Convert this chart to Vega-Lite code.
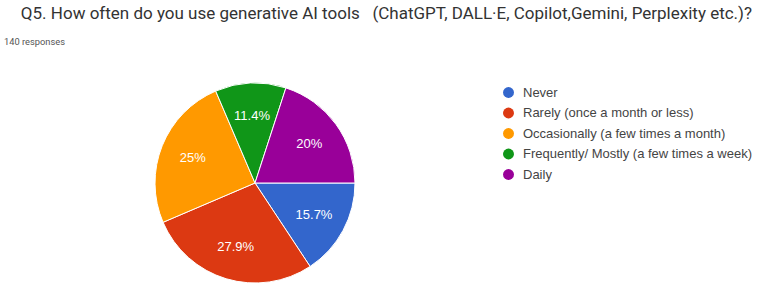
{
  "$schema": "https://vega.github.io/schema/vega-lite/v6.json",
  "width": 510,
  "height": 200,
  "padding": {"left": 0, "top": 4, "right": 0, "bottom": 0},
  "background": "white",
  "config": {"view": {"stroke": null}, "font": "Liberation Sans"},
  "title": {
    "text": "\u200b\u00a0\u00a0\u00a0\u00a0Q5. How often do you use generative AI tools \u00a0 (ChatGPT, DALL·E, Copilot,Gemini, Perplexity etc.)?",
    "subtitle": "140 responses",
    "anchor": "start",
    "frame": "bounds",
    "dx": 4,
    "font": "Roboto",
    "fontSize": 17,
    "fontWeight": "normal",
    "color": "#333333",
    "subtitleFont": "Roboto",
    "subtitleFontSize": 9.3,
    "subtitleColor": "#555555",
    "subtitlePadding": 15,
    "offset": 33
  },
  "data": {
    "values": [
      {"idx": 1, "answer": "Never", "count": 22, "label": "15.7%"},
      {"idx": 2, "answer": "Rarely (once a month or less)", "count": 39, "label": "27.9%"},
      {"idx": 3, "answer": "Occasionally (a few times a month)", "count": 35, "label": "25%"},
      {"idx": 4, "answer": "Frequently/ Mostly (a few times a week)", "count": 16, "label": "11.4%"},
      {"idx": 5, "answer": "Daily", "count": 28, "label": "20%"}
    ]
  },
  "encoding": {
    "theta": {"field": "count", "type": "quantitative", "stack": true, "scale": {"range": [1.5708, 7.8540]}},
    "order": {"field": "idx", "type": "quantitative"}
  },
  "layer": [
    {
      "mark": {"type": "arc", "outerRadius": 100, "stroke": "white", "strokeWidth": 1},
      "encoding": {
        "color": {
          "field": "answer",
          "type": "nominal",
          "scale": {
            "domain": ["Never", "Rarely (once a month or less)", "Occasionally (a few times a month)", "Frequently/ Mostly (a few times a week)", "Daily"],
            "range": ["#3366CC", "#DC3912", "#FF9900", "#109618", "#990099"]
          },
          "legend": {
            "title": null,
            "orient": "none",
            "legendX": 502,
            "legendY": 3,
            "symbolType": "circle",
            "symbolSize": 120,
            "symbolStrokeWidth": 0,
            "labelFont": "Liberation Sans",
            "labelFontSize": 13,
            "labelColor": "#444444",
            "labelOffset": 8,
            "rowPadding": 6.5,
            "labelLimit": 400
          }
        }
      }
    },
    {
      "mark": {"type": "text", "radius": 67, "color": "white", "fontSize": 13, "font": "Liberation Sans"},
      "encoding": {"text": {"field": "label", "type": "nominal"}}
    }
  ]
}
